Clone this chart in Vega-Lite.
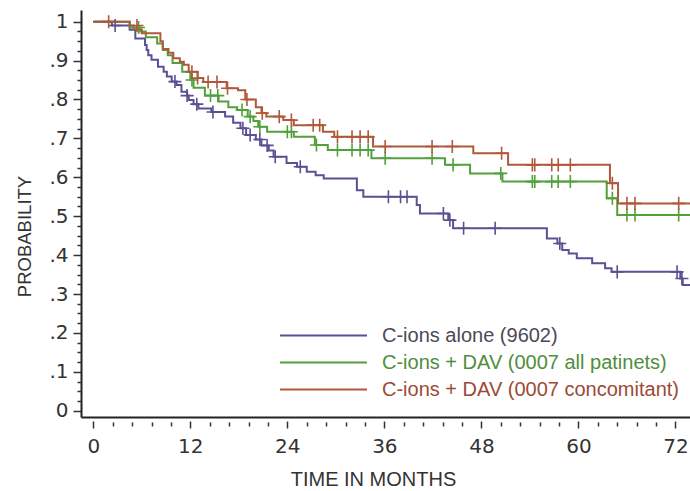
{
  "$schema": "https://vega.github.io/schema/vega-lite/v6.json",
  "autosize": {"type": "none"},
  "padding": {"left": 81, "top": 10, "right": 0, "bottom": 74},
  "width": 609,
  "height": 407,
  "background": "#ffffff",
  "config": {
    "view": {"stroke": null},
    "axis": {"grid": false, "domainColor": "#222222", "domainWidth": 2, "tickColor": "#333333", "labelColor": "#333333", "titleColor": "#333333", "labelFont": "DejaVu Sans", "labelFontSize": 20, "titleFont": "Liberation Sans", "titleFontSize": 20, "titleFontWeight": "normal", "labelOverlap": false, "labelFlush": false}
  },
  "resolve": {"axis": {"x": "independent", "y": "independent"}},
  "datasets": {
    "steps": [
      {"g": "C-ions alone (9602)", "t": 0, "s": 1},
      {"g": "C-ions alone (9602)", "t": 2.3, "s": 0.99},
      {"g": "C-ions alone (9602)", "t": 4.5, "s": 0.979},
      {"g": "C-ions alone (9602)", "t": 5.2, "s": 0.957},
      {"g": "C-ions alone (9602)", "t": 6.4, "s": 0.94},
      {"g": "C-ions alone (9602)", "t": 6.6, "s": 0.927},
      {"g": "C-ions alone (9602)", "t": 6.8, "s": 0.914},
      {"g": "C-ions alone (9602)", "t": 7.2, "s": 0.902},
      {"g": "C-ions alone (9602)", "t": 8.0, "s": 0.884},
      {"g": "C-ions alone (9602)", "t": 8.7, "s": 0.871},
      {"g": "C-ions alone (9602)", "t": 9.1, "s": 0.859},
      {"g": "C-ions alone (9602)", "t": 9.7, "s": 0.846},
      {"g": "C-ions alone (9602)", "t": 10.3, "s": 0.837},
      {"g": "C-ions alone (9602)", "t": 10.9, "s": 0.82},
      {"g": "C-ions alone (9602)", "t": 11.6, "s": 0.81},
      {"g": "C-ions alone (9602)", "t": 11.8, "s": 0.799},
      {"g": "C-ions alone (9602)", "t": 12.4, "s": 0.788},
      {"g": "C-ions alone (9602)", "t": 13.0, "s": 0.777},
      {"g": "C-ions alone (9602)", "t": 14.6, "s": 0.768},
      {"g": "C-ions alone (9602)", "t": 16.3, "s": 0.756},
      {"g": "C-ions alone (9602)", "t": 17.3, "s": 0.74},
      {"g": "C-ions alone (9602)", "t": 18.2, "s": 0.726},
      {"g": "C-ions alone (9602)", "t": 18.9, "s": 0.709},
      {"g": "C-ions alone (9602)", "t": 20.1, "s": 0.697},
      {"g": "C-ions alone (9602)", "t": 20.8, "s": 0.682},
      {"g": "C-ions alone (9602)", "t": 21.7, "s": 0.669},
      {"g": "C-ions alone (9602)", "t": 22.3, "s": 0.653},
      {"g": "C-ions alone (9602)", "t": 23.9, "s": 0.637},
      {"g": "C-ions alone (9602)", "t": 25.2, "s": 0.627},
      {"g": "C-ions alone (9602)", "t": 26.4, "s": 0.614},
      {"g": "C-ions alone (9602)", "t": 27.5, "s": 0.605},
      {"g": "C-ions alone (9602)", "t": 28.5, "s": 0.597},
      {"g": "C-ions alone (9602)", "t": 32.6, "s": 0.567},
      {"g": "C-ions alone (9602)", "t": 33.4, "s": 0.55},
      {"g": "C-ions alone (9602)", "t": 40.0, "s": 0.529},
      {"g": "C-ions alone (9602)", "t": 40.4, "s": 0.507},
      {"g": "C-ions alone (9602)", "t": 43.9, "s": 0.49},
      {"g": "C-ions alone (9602)", "t": 44.5, "s": 0.469},
      {"g": "C-ions alone (9602)", "t": 56.1, "s": 0.443},
      {"g": "C-ions alone (9602)", "t": 57.4, "s": 0.43},
      {"g": "C-ions alone (9602)", "t": 58.0, "s": 0.413},
      {"g": "C-ions alone (9602)", "t": 58.8, "s": 0.404},
      {"g": "C-ions alone (9602)", "t": 59.8, "s": 0.392},
      {"g": "C-ions alone (9602)", "t": 61.7, "s": 0.379},
      {"g": "C-ions alone (9602)", "t": 63.3, "s": 0.366},
      {"g": "C-ions alone (9602)", "t": 64.1, "s": 0.357},
      {"g": "C-ions alone (9602)", "t": 72.6, "s": 0.34},
      {"g": "C-ions alone (9602)", "t": 72.9, "s": 0.323},
      {"g": "C-ions alone (9602)", "t": 73.8, "s": 0.323},
      {"g": "C-ions + DAV (0007 all patinets)", "t": 0, "s": 1},
      {"g": "C-ions + DAV (0007 all patinets)", "t": 4.5, "s": 0.985},
      {"g": "C-ions + DAV (0007 all patinets)", "t": 5.8, "s": 0.975},
      {"g": "C-ions + DAV (0007 all patinets)", "t": 6.5, "s": 0.96},
      {"g": "C-ions + DAV (0007 all patinets)", "t": 7.9, "s": 0.944},
      {"g": "C-ions + DAV (0007 all patinets)", "t": 8.6, "s": 0.927},
      {"g": "C-ions + DAV (0007 all patinets)", "t": 9.2, "s": 0.914},
      {"g": "C-ions + DAV (0007 all patinets)", "t": 9.8, "s": 0.894},
      {"g": "C-ions + DAV (0007 all patinets)", "t": 11.0, "s": 0.871},
      {"g": "C-ions + DAV (0007 all patinets)", "t": 12.0, "s": 0.85},
      {"g": "C-ions + DAV (0007 all patinets)", "t": 12.4, "s": 0.83},
      {"g": "C-ions + DAV (0007 all patinets)", "t": 13.8, "s": 0.81},
      {"g": "C-ions + DAV (0007 all patinets)", "t": 15.5, "s": 0.795},
      {"g": "C-ions + DAV (0007 all patinets)", "t": 16.7, "s": 0.78},
      {"g": "C-ions + DAV (0007 all patinets)", "t": 17.8, "s": 0.773},
      {"g": "C-ions + DAV (0007 all patinets)", "t": 19.1, "s": 0.756},
      {"g": "C-ions + DAV (0007 all patinets)", "t": 19.8, "s": 0.745},
      {"g": "C-ions + DAV (0007 all patinets)", "t": 20.4, "s": 0.73},
      {"g": "C-ions + DAV (0007 all patinets)", "t": 21.5, "s": 0.717},
      {"g": "C-ions + DAV (0007 all patinets)", "t": 24.8, "s": 0.704},
      {"g": "C-ions + DAV (0007 all patinets)", "t": 27.4, "s": 0.683},
      {"g": "C-ions + DAV (0007 all patinets)", "t": 29.0, "s": 0.67},
      {"g": "C-ions + DAV (0007 all patinets)", "t": 34.4, "s": 0.649},
      {"g": "C-ions + DAV (0007 all patinets)", "t": 43.5, "s": 0.632},
      {"g": "C-ions + DAV (0007 all patinets)", "t": 46.6, "s": 0.61},
      {"g": "C-ions + DAV (0007 all patinets)", "t": 50.6, "s": 0.589},
      {"g": "C-ions + DAV (0007 all patinets)", "t": 63.5, "s": 0.546},
      {"g": "C-ions + DAV (0007 all patinets)", "t": 64.8, "s": 0.503},
      {"g": "C-ions + DAV (0007 all patinets)", "t": 73.8, "s": 0.503},
      {"g": "C-ions + DAV (0007 concomitant)", "t": 0, "s": 1},
      {"g": "C-ions + DAV (0007 concomitant)", "t": 4.5, "s": 0.99},
      {"g": "C-ions + DAV (0007 concomitant)", "t": 5.0, "s": 0.98},
      {"g": "C-ions + DAV (0007 concomitant)", "t": 6.0, "s": 0.97},
      {"g": "C-ions + DAV (0007 concomitant)", "t": 8.3, "s": 0.95},
      {"g": "C-ions + DAV (0007 concomitant)", "t": 8.6, "s": 0.93},
      {"g": "C-ions + DAV (0007 concomitant)", "t": 9.3, "s": 0.92},
      {"g": "C-ions + DAV (0007 concomitant)", "t": 9.9, "s": 0.906},
      {"g": "C-ions + DAV (0007 concomitant)", "t": 10.7, "s": 0.897},
      {"g": "C-ions + DAV (0007 concomitant)", "t": 11.2, "s": 0.889},
      {"g": "C-ions + DAV (0007 concomitant)", "t": 11.8, "s": 0.871},
      {"g": "C-ions + DAV (0007 concomitant)", "t": 12.9, "s": 0.855},
      {"g": "C-ions + DAV (0007 concomitant)", "t": 13.6, "s": 0.845},
      {"g": "C-ions + DAV (0007 concomitant)", "t": 16.5, "s": 0.829},
      {"g": "C-ions + DAV (0007 concomitant)", "t": 17.9, "s": 0.824},
      {"g": "C-ions + DAV (0007 concomitant)", "t": 18.8, "s": 0.8},
      {"g": "C-ions + DAV (0007 concomitant)", "t": 20.1, "s": 0.78},
      {"g": "C-ions + DAV (0007 concomitant)", "t": 20.8, "s": 0.765},
      {"g": "C-ions + DAV (0007 concomitant)", "t": 21.4, "s": 0.756},
      {"g": "C-ions + DAV (0007 concomitant)", "t": 23.5, "s": 0.747},
      {"g": "C-ions + DAV (0007 concomitant)", "t": 24.8, "s": 0.734},
      {"g": "C-ions + DAV (0007 concomitant)", "t": 28.4, "s": 0.717},
      {"g": "C-ions + DAV (0007 concomitant)", "t": 29.8, "s": 0.704},
      {"g": "C-ions + DAV (0007 concomitant)", "t": 34.6, "s": 0.679},
      {"g": "C-ions + DAV (0007 concomitant)", "t": 47.0, "s": 0.662},
      {"g": "C-ions + DAV (0007 concomitant)", "t": 51.3, "s": 0.632},
      {"g": "C-ions + DAV (0007 concomitant)", "t": 63.9, "s": 0.585},
      {"g": "C-ions + DAV (0007 concomitant)", "t": 64.9, "s": 0.533},
      {"g": "C-ions + DAV (0007 concomitant)", "t": 73.8, "s": 0.533}
    ],
    "cens": [
      {"g": "C-ions alone (9602)", "t": 2.7, "s": 0.99},
      {"g": "C-ions alone (9602)", "t": 10.1, "s": 0.846},
      {"g": "C-ions alone (9602)", "t": 11.6, "s": 0.81},
      {"g": "C-ions alone (9602)", "t": 12.8, "s": 0.788},
      {"g": "C-ions alone (9602)", "t": 14.8, "s": 0.768},
      {"g": "C-ions alone (9602)", "t": 18.5, "s": 0.726},
      {"g": "C-ions alone (9602)", "t": 19.4, "s": 0.709},
      {"g": "C-ions alone (9602)", "t": 20.6, "s": 0.697},
      {"g": "C-ions alone (9602)", "t": 21.5, "s": 0.682},
      {"g": "C-ions alone (9602)", "t": 22.5, "s": 0.653},
      {"g": "C-ions alone (9602)", "t": 25.6, "s": 0.627},
      {"g": "C-ions alone (9602)", "t": 36.5, "s": 0.55},
      {"g": "C-ions alone (9602)", "t": 38.0, "s": 0.55},
      {"g": "C-ions alone (9602)", "t": 38.8, "s": 0.55},
      {"g": "C-ions alone (9602)", "t": 43.3, "s": 0.507},
      {"g": "C-ions alone (9602)", "t": 44.1, "s": 0.49},
      {"g": "C-ions alone (9602)", "t": 45.8, "s": 0.469},
      {"g": "C-ions alone (9602)", "t": 49.7, "s": 0.469},
      {"g": "C-ions alone (9602)", "t": 57.7, "s": 0.43},
      {"g": "C-ions alone (9602)", "t": 64.8, "s": 0.357},
      {"g": "C-ions alone (9602)", "t": 72.2, "s": 0.357},
      {"g": "C-ions alone (9602)", "t": 72.8, "s": 0.34},
      {"g": "C-ions + DAV (0007 all patinets)", "t": 5.6, "s": 0.985},
      {"g": "C-ions + DAV (0007 all patinets)", "t": 12.2, "s": 0.85},
      {"g": "C-ions + DAV (0007 all patinets)", "t": 14.5, "s": 0.81},
      {"g": "C-ions + DAV (0007 all patinets)", "t": 15.4, "s": 0.81},
      {"g": "C-ions + DAV (0007 all patinets)", "t": 18.4, "s": 0.773},
      {"g": "C-ions + DAV (0007 all patinets)", "t": 19.4, "s": 0.756},
      {"g": "C-ions + DAV (0007 all patinets)", "t": 20.6, "s": 0.73},
      {"g": "C-ions + DAV (0007 all patinets)", "t": 24.0, "s": 0.717},
      {"g": "C-ions + DAV (0007 all patinets)", "t": 24.5, "s": 0.717},
      {"g": "C-ions + DAV (0007 all patinets)", "t": 27.6, "s": 0.683},
      {"g": "C-ions + DAV (0007 all patinets)", "t": 30.2, "s": 0.67},
      {"g": "C-ions + DAV (0007 all patinets)", "t": 32.0, "s": 0.67},
      {"g": "C-ions + DAV (0007 all patinets)", "t": 33.0, "s": 0.67},
      {"g": "C-ions + DAV (0007 all patinets)", "t": 34.0, "s": 0.67},
      {"g": "C-ions + DAV (0007 all patinets)", "t": 36.1, "s": 0.649},
      {"g": "C-ions + DAV (0007 all patinets)", "t": 41.9, "s": 0.649},
      {"g": "C-ions + DAV (0007 all patinets)", "t": 44.5, "s": 0.632},
      {"g": "C-ions + DAV (0007 all patinets)", "t": 50.4, "s": 0.61},
      {"g": "C-ions + DAV (0007 all patinets)", "t": 54.3, "s": 0.589},
      {"g": "C-ions + DAV (0007 all patinets)", "t": 54.6, "s": 0.589},
      {"g": "C-ions + DAV (0007 all patinets)", "t": 56.7, "s": 0.589},
      {"g": "C-ions + DAV (0007 all patinets)", "t": 57.5, "s": 0.589},
      {"g": "C-ions + DAV (0007 all patinets)", "t": 59.0, "s": 0.589},
      {"g": "C-ions + DAV (0007 all patinets)", "t": 64.2, "s": 0.546},
      {"g": "C-ions + DAV (0007 all patinets)", "t": 66.0, "s": 0.503},
      {"g": "C-ions + DAV (0007 all patinets)", "t": 67.0, "s": 0.503},
      {"g": "C-ions + DAV (0007 all patinets)", "t": 72.4, "s": 0.503},
      {"g": "C-ions + DAV (0007 concomitant)", "t": 1.9, "s": 1.0},
      {"g": "C-ions + DAV (0007 concomitant)", "t": 5.4, "s": 0.99},
      {"g": "C-ions + DAV (0007 concomitant)", "t": 12.2, "s": 0.871},
      {"g": "C-ions + DAV (0007 concomitant)", "t": 12.9, "s": 0.855},
      {"g": "C-ions + DAV (0007 concomitant)", "t": 14.2, "s": 0.845},
      {"g": "C-ions + DAV (0007 concomitant)", "t": 15.3, "s": 0.845},
      {"g": "C-ions + DAV (0007 concomitant)", "t": 16.6, "s": 0.829},
      {"g": "C-ions + DAV (0007 concomitant)", "t": 19.0, "s": 0.8},
      {"g": "C-ions + DAV (0007 concomitant)", "t": 20.9, "s": 0.765},
      {"g": "C-ions + DAV (0007 concomitant)", "t": 23.0, "s": 0.756},
      {"g": "C-ions + DAV (0007 concomitant)", "t": 24.5, "s": 0.747},
      {"g": "C-ions + DAV (0007 concomitant)", "t": 27.2, "s": 0.734},
      {"g": "C-ions + DAV (0007 concomitant)", "t": 28.0, "s": 0.734},
      {"g": "C-ions + DAV (0007 concomitant)", "t": 30.2, "s": 0.704},
      {"g": "C-ions + DAV (0007 concomitant)", "t": 32.0, "s": 0.704},
      {"g": "C-ions + DAV (0007 concomitant)", "t": 33.0, "s": 0.704},
      {"g": "C-ions + DAV (0007 concomitant)", "t": 34.0, "s": 0.704},
      {"g": "C-ions + DAV (0007 concomitant)", "t": 36.1, "s": 0.679},
      {"g": "C-ions + DAV (0007 concomitant)", "t": 41.9, "s": 0.679},
      {"g": "C-ions + DAV (0007 concomitant)", "t": 44.4, "s": 0.679},
      {"g": "C-ions + DAV (0007 concomitant)", "t": 50.5, "s": 0.662},
      {"g": "C-ions + DAV (0007 concomitant)", "t": 54.3, "s": 0.632},
      {"g": "C-ions + DAV (0007 concomitant)", "t": 54.6, "s": 0.632},
      {"g": "C-ions + DAV (0007 concomitant)", "t": 56.7, "s": 0.632},
      {"g": "C-ions + DAV (0007 concomitant)", "t": 57.5, "s": 0.632},
      {"g": "C-ions + DAV (0007 concomitant)", "t": 59.0, "s": 0.632},
      {"g": "C-ions + DAV (0007 concomitant)", "t": 64.2, "s": 0.585},
      {"g": "C-ions + DAV (0007 concomitant)", "t": 66.0, "s": 0.533},
      {"g": "C-ions + DAV (0007 concomitant)", "t": 67.0, "s": 0.533},
      {"g": "C-ions + DAV (0007 concomitant)", "t": 72.4, "s": 0.533}
    ]
  },
  "layer": [
    {
      "data": {"name": "steps"},
      "mark": {"type": "line", "interpolate": "step-after", "strokeWidth": 2, "clip": true},
      "encoding": {
        "x": {
          "field": "t", "type": "quantitative",
          "scale": {"domain": [-1.52, 73.8], "nice": false, "zero": false},
          "axis": {
            "orient": "bottom",
            "title": "TIME IN MONTHS",
            "values": [0, 12, 24, 36, 48, 60, 72],
            "tickSize": 11,
            "tickDash": [0, 4, 7],
            "tickWidth": 1.5,
            "labelPadding": 8,
            "titleX": 292,
            "titleY": 62,
            "titleBaseline": "middle",
            "titleAnchor": "middle"
          }
        },
        "y": {
          "field": "s", "type": "quantitative",
          "scale": {"domain": [-0.016, 1.03], "nice": false, "zero": false},
          "axis": {
            "orient": "left",
            "title": "PROBABILITY",
            "titleFontSize": 18.5,
            "values": [0, 0.1, 0.2, 0.3, 0.4, 0.5, 0.6, 0.7, 0.8, 0.9, 1],
            "labelExpr": "datum.value == 0 ? '0' : (datum.value == 1 ? '1' : replace(format(datum.value, '.1f'), '0.', '.'))",
            "tickSize": 8,
            "tickWidth": 1.5,
            "labelPadding": 5,
            "titleX": -57,
            "titleY": 226,
            "titleBaseline": "middle",
            "titleAnchor": "middle"
          }
        },
        "color": {
          "field": "g", "type": "nominal",
          "scale": {
            "domain": ["C-ions alone (9602)", "C-ions + DAV (0007 all patinets)", "C-ions + DAV (0007 concomitant)"],
            "range": ["#5a5094", "#52a03c", "#b0583a"]
          },
          "legend": {
            "title": null,
            "orient": "none",
            "legendX": 227,
            "legendY": 310,
            "symbolType": "M-3,0L3,0",
            "symbolSize": 841,
            "symbolStrokeWidth": 2,
            "labelFont": "Liberation Sans",
            "labelFontSize": 20,
            "labelOffset": 43,
            "labelLimit": 400,
            "rowPadding": 1,
            "padding": 0,
            "encode": {
              "labels": {"update": {"fill": {"signal": "datum.value === 'C-ions alone (9602)' ? '#4a4a58' : (datum.value === 'C-ions + DAV (0007 all patinets)' ? '#4f8e3c' : '#9c4a36')"}}},
              "symbols": {"update": {"stroke": {"signal": "datum.value === 'C-ions alone (9602)' ? '#55556a' : (datum.value === 'C-ions + DAV (0007 all patinets)' ? '#a9bf4a' : '#a85a3e')"}}}
            }
          }
        }
      }
    },
    {
      "data": {"name": "cens"},
      "mark": {"type": "point", "shape": "M-1,0L1,0M0,-1L0,1", "filled": false, "strokeWidth": 1.6, "size": 170, "opacity": 1, "clip": true},
      "encoding": {
        "x": {
          "field": "t", "type": "quantitative",
          "axis": {"orient": "bottom", "title": null, "labels": false, "domain": false, "values": [2.4, 4.8, 7.2, 9.6, 14.4, 16.8, 19.2, 21.6, 26.4, 28.8, 31.2, 33.6, 38.4, 40.8, 43.2, 45.6, 50.4, 52.8, 55.2, 57.6, 62.4, 64.8, 67.2, 69.6], "tickSize": 9, "tickDash": [0, 5, 4], "tickWidth": 1.5}
        },
        "y": {
          "field": "s", "type": "quantitative",
          "axis": {"orient": "left", "title": null, "labels": false, "domain": false, "values": [0.025, 0.05, 0.075, 0.125, 0.15, 0.175, 0.225, 0.25, 0.275, 0.325, 0.35, 0.375, 0.425, 0.45, 0.475, 0.525, 0.55, 0.575, 0.625, 0.65, 0.675, 0.725, 0.75, 0.775, 0.825, 0.85, 0.875, 0.925, 0.95, 0.975], "tickSize": 4, "tickWidth": 1.5}
        },
        "color": {"field": "g", "type": "nominal", "legend": null}
      }
    }
  ]
}
